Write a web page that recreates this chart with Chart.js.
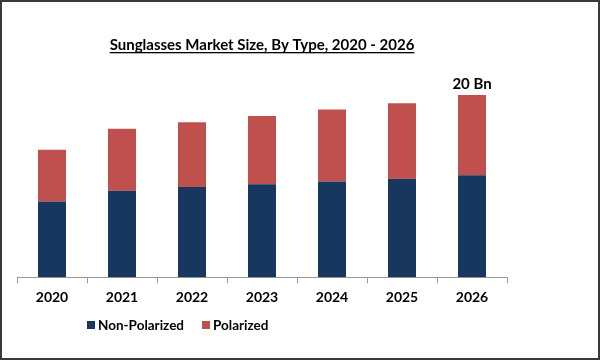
<!DOCTYPE html>
<html>
<head>
<meta charset="utf-8">
<script src="https://cdn.jsdelivr.net/npm/chart.js@4.4.0/dist/chart.umd.min.js"></script>
<style>
  html, body { margin: 0; padding: 0; background: #fff; }
  #wrap { position: relative; width: 596px; height: 356px; border: 2px solid #3a3a3a; }
</style>
</head>
<body>
<div id="wrap"><canvas id="chart" width="596" height="356"></canvas></div>
<script>
// Sunglasses market by type
const years = ['2020', '2021', '2022', '2023', '2024', '2025', '2026'];
const nonPolarized = [8.3, 9.5, 9.9, 10.2, 10.5, 10.8, 11.2];
const polarized = [5.7, 6.8, 7.1, 7.5, 7.9, 8.3, 8.8];
const lastLabel = '20 Bn';

const FONT = 'Lato, "Open Sans", sans-serif';

const overlay = {
    id: 'overlay',
    afterDraw(chart) {
        const ctx = chart.ctx;
        const area = chart.chartArea;
        ctx.save();

        // title, underlined
        const title = 'Sunglasses Market Size, By Type, 2020 - 2026';
        ctx.font = 'bold 15px ' + FONT;
        ctx.fillStyle = '#000';
        ctx.textAlign = 'center';
        ctx.textBaseline = 'alphabetic';
        const cx = (area.left + area.right) / 2;
        ctx.fillText(title, cx, 48);
        const w = ctx.measureText(title).width;
        ctx.fillRect(cx - w / 2, 50, w, 1.3);

        // total label above last bar
        const meta = chart.getDatasetMeta(1);
        const bar = meta.data[meta.data.length - 1];
        ctx.font = 'bold 15px ' + FONT;
        ctx.fillText(lastLabel, bar.x, bar.y - 6);

        // legend
        ctx.font = 'bold 13.5px ' + FONT;
        ctx.textAlign = 'left';
        ctx.textBaseline = 'middle';
        let x = 85;
        const y = 323;
        chart.data.datasets.forEach(ds => {
            ctx.fillStyle = ds.backgroundColor;
            ctx.fillRect(x, y - 4, 8, 8);
            ctx.fillStyle = '#000';
            ctx.fillText(ds.label, x + 11, y + 1);
            x += 11 + ctx.measureText(ds.label).width + 18;
        });
        ctx.restore();
    }
};

new Chart(document.getElementById('chart'), {
    type: 'bar',
    data: {
        labels: years,
        datasets: [
            { label: 'Non-Polarized', data: nonPolarized, backgroundColor: '#17375E' },
            { label: 'Polarized', data: polarized, backgroundColor: '#C0504D' }
        ]
    },
    options: {
        responsive: false,
        animation: false,
        devicePixelRatio: 1,
        layout: { padding: { left: 15, right: 91, top: 93, bottom: 46 } },
        datasets: { bar: { categoryPercentage: 0.4, barPercentage: 1 } },
        plugins: { legend: { display: false }, title: { display: false }, tooltip: { enabled: false } },
        scales: {
            x: {
                stacked: true,
                grid: { display: true, drawOnChartArea: false, tickLength: 6, color: '#999' },
                border: { color: '#999', width: 1 },
                ticks: { color: '#000', font: { family: FONT, size: 14, weight: 'bold' }, padding: 6 }
            },
            y: {
                stacked: true,
                display: false,
                min: 0,
                max: 20
            }
        }
    },
    plugins: [overlay]
});
</script>
</body>
</html>
